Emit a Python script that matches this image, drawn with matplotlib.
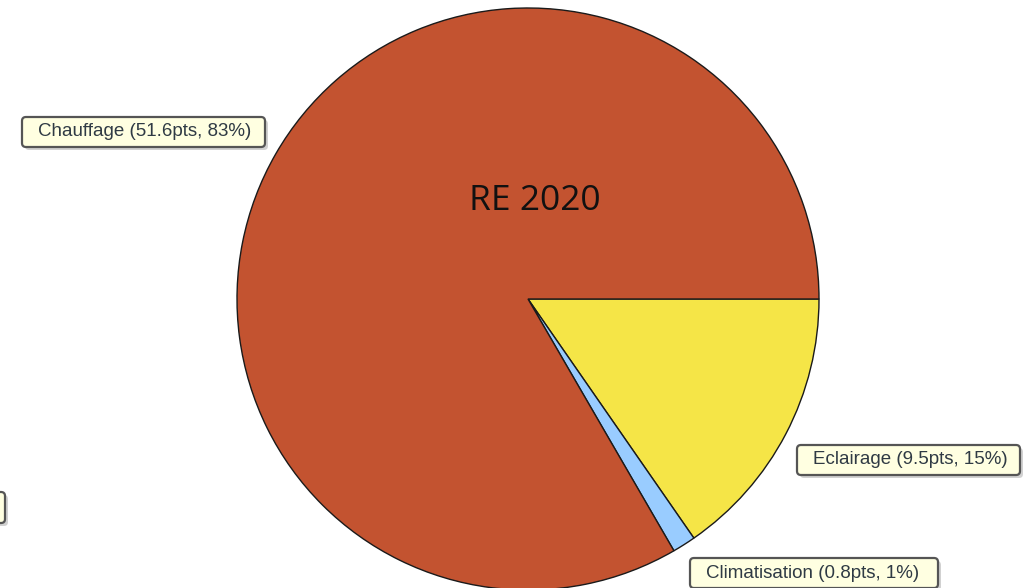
import matplotlib
matplotlib.use("Agg")
import matplotlib.pyplot as plt
from matplotlib.patches import FancyBboxPatch

# Energy consumption shares (points)
categories = ["Eclairage", "Climatisation", "Chauffage"]
values = [9.5, 0.8, 51.6]
percents = [15, 1, 83]
colors = ["#F5E547", "#99CCFF", "#C35330"]
title = "RE 2020"

W, H = 1026, 588
fig = plt.figure(figsize=(W / 100, H / 100), dpi=100)
ax = fig.add_axes([0, 0, 1, 1])

cx, cy, r = 528, H - 299, 291
ax.pie(values, colors=colors, startangle=0, counterclock=False,
       center=(cx, cy), radius=r, frame=True,
       wedgeprops=dict(edgecolor="#1a1a1a", linewidth=1.0))
ax.set_xlim(0, W)
ax.set_ylim(0, H)
ax.set_aspect("equal")
ax.axis("off")

ax.text(535, H - 201, title, ha="center", va="center",
        fontsize=25.5, family="Open Sans", color="#111111")


def label_box(x0, y0, x1, y1, text):
    # drop shadow
    ax.add_patch(FancyBboxPatch((x0 + 3, H - y1 - 3), x1 - x0, y1 - y0,
                                boxstyle="round,pad=0,rounding_size=4",
                                fc="#9a9a9a", ec="none", alpha=0.45, zorder=5))
    ax.add_patch(FancyBboxPatch((x0, H - y1), x1 - x0, y1 - y0,
                                boxstyle="round,pad=0,rounding_size=4",
                                fc="#FFFFE1", ec="#555555", lw=1.6, zorder=6))
    if text:
        ax.text(x0 + 16, H - (y0 + y1) / 2, text,
                ha="left", va="center", fontsize=13.5,
                family="Liberation Sans", color="#2f3a44", zorder=7)


positions = {
    "Chauffage": (22, 117, 265, 147),
    "Eclairage": (797, 445, 1020, 475),
    "Climatisation": (690, 558, 938, 588),
}
for name, val, pct in zip(categories, values, percents):
    x0, y0, x1, y1 = positions[name]
    label_box(x0, y0, x1, y1, f"{name} ({val}pts, {pct}%)")

# partially visible box at the left edge
label_box(-200, 492, 5, 523, "")

fig.savefig("out.png", dpi=100)
